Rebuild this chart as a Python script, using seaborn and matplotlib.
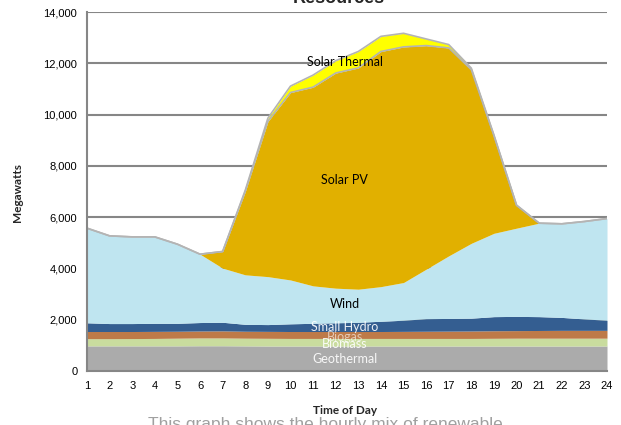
import numpy as np
import pandas as pd
import matplotlib
matplotlib.use("Agg")
import matplotlib.pyplot as plt
import seaborn as sns

# Hourly renewable output (MW)
hours = list(range(1, 25))
geothermal = [980, 980, 980, 980, 980, 985, 985, 980, 975, 975, 975, 975,
              975, 975, 975, 975, 975, 975, 975, 975, 975, 975, 975, 975]
biomass = [280, 280, 285, 290, 300, 305, 305, 300, 300, 295, 295, 295,
           295, 295, 295, 295, 295, 295, 300, 305, 305, 305, 305, 305]
biogas = [280, 280, 275, 275, 270, 270, 275, 270, 270, 270, 270, 270,
          270, 270, 275, 280, 285, 290, 295, 295, 300, 305, 305, 305]
small_hydro = [340, 310, 310, 315, 310, 330, 335, 270, 265, 300, 320, 340,
               360, 400, 435, 490, 495, 500, 550, 555, 540, 505, 445, 395]
wind = [3690, 3420, 3380, 3370, 3085, 2665, 2110, 1930, 1870, 1710, 1460, 1350,
        1290, 1350, 1470, 1930, 2440, 2920, 3250, 3440, 3645, 3650, 3800, 3965]
solar_pv = [0, 0, 0, 0, 0, 0, 650, 3250, 6050, 7310, 7750, 8390,
            8630, 9170, 9190, 8720, 8110, 6770, 3810, 890, 0, 0, 0, 0]
solar_thermal = [0, 0, 0, 0, 0, 0, 0, 50, 130, 250, 470, 480,
                 640, 590, 530, 260, 130, 60, 20, 10, 0, 0, 0, 0]

series = ["Geothermal", "Biomass", "Biogas", "Small Hydro", "Wind", "Solar PV", "Solar Thermal"]
colors = ["#ABABAB", "#C9DC9E", "#BE7A48", "#345E91", "#BFE5F0", "#E1B000", "#FFFF00"]

df = pd.DataFrame({"Hour": hours, "Geothermal": geothermal, "Biomass": biomass,
                   "Biogas": biogas, "Small Hydro": small_hydro, "Wind": wind,
                   "Solar PV": solar_pv, "Solar Thermal": solar_thermal})

sns.set_style("white")
plt.rcParams["font.family"] = ["Liberation Sans", "DejaVu Sans"]

fig = plt.figure(figsize=(6.21, 4.25), dpi=100)
ax = fig.add_axes([87 / 621, 1 - 371 / 425, 520 / 621, 359 / 425])

ax.stackplot(df["Hour"], [df[s] for s in series], colors=colors, linewidth=0, zorder=2)

# gray outlines on top of the solar layers
cum = df[series].cumsum(axis=1)
outline = pd.DataFrame({"Hour": hours, "PV top": cum["Solar PV"], "Total": cum["Solar Thermal"]})
sns.lineplot(data=outline, x="Hour", y="PV top", color="#B4B4B4", lw=1.2, ax=ax, zorder=3)
sns.lineplot(data=outline, x="Hour", y="Total", color="#B4B4B4", lw=1.2, ax=ax, zorder=3)

ax.set_xlim(1, 24)
ax.set_ylim(0, 14000)
ax.set_xticks(hours)
ax.set_xticklabels([str(h) for h in hours])
ax.set_yticks(range(0, 14001, 2000))
ax.set_yticklabels([f"{v:,}" for v in range(0, 14001, 2000)])
ax.tick_params(axis="both", labelsize=8, colors="#868686", length=4, width=1, direction="out",
               labelcolor="black", pad=3)
ax.yaxis.grid(True, color="#868686", lw=1.5, zorder=0)
ax.set_axisbelow(True)
for s in ["top", "right"]:
    ax.spines[s].set_visible(False)
for s in ["left", "bottom"]:
    ax.spines[s].set_color("#868686")
    ax.spines[s].set_linewidth(1.5)
    ax.spines[s].set_zorder(5)

ax.set_xlabel("")
ax.set_ylabel("")
fig.text(18 / 621, 1 - 193 / 425, "Megawatts", rotation=90, ha="center", va="center",
         fontsize=8.5, fontweight="bold", family=["Lato", "DejaVu Sans"])
fig.text(345 / 621, 1 - 410 / 425, "Time of Day", ha="center", va="center",
         fontsize=8.5, fontweight="bold", family=["Lato", "DejaVu Sans"])
fig.text(339 / 621, 1 - 3 / 425, "Resources", ha="center", va="baseline",
         fontsize=13, fontweight="bold")
fig.text(325 / 621, 1 - 417 / 425, "This graph shows the hourly mix of renewable",
         ha="center", va="top", fontsize=12.5, color="#A0A0A0")

labels = [("Solar Thermal", 12060, "black", 1.0), ("Solar PV", 7455, "black", 1.0),
          ("Wind", 2615, "black", 1.0), ("Small Hydro", 1717, "white", 0.9),
          ("Biogas", 1327, "white", 0.6), ("Biomass", 1054, "white", 0.9),
          ("Geothermal", 468, "white", 0.9)]
for name, yv, c, a in labels:
    ax.text(12.4, yv, name, ha="center", va="center", fontsize=9, color=c, alpha=a,
            family=["Lato", "DejaVu Sans"], zorder=6)

fig.savefig("out.png", dpi=100)
